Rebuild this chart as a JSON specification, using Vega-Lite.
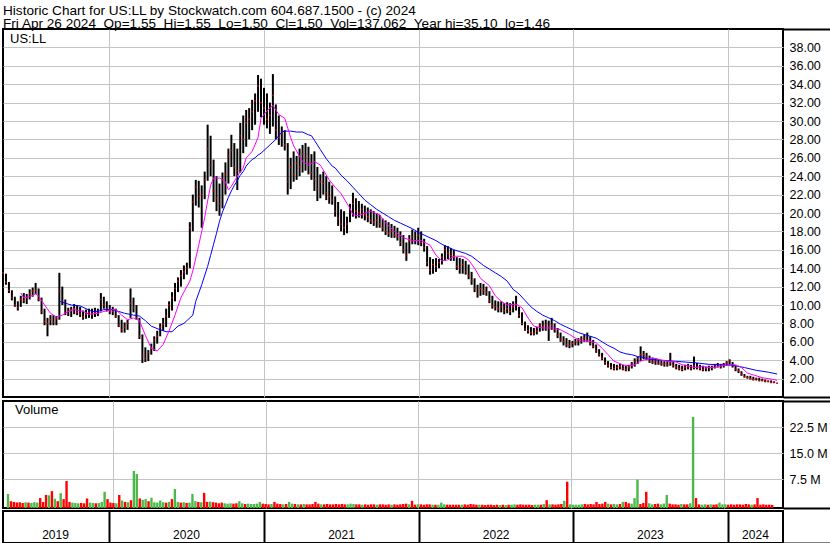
{
"$schema": "https://vega.github.io/schema/vega-lite/v6.json",
"background": "white",
"padding": {"left": 1, "top": 4, "right": 0, "bottom": 0},
"spacing": 0,
"title": {"text": ["Historic Chart for US:LL by Stockwatch.com 604.687.1500 - (c) 2024", "Fri Apr 26 2024 \u00a0Op=1.55 \u00a0Hi=1.55 \u00a0Lo=1.50 \u00a0Cl=1.50 \u00a0Vol=137,062 \u00a0Year hi=35.10 \u00a0lo=1.46"], "anchor": "start", "font": "Liberation Sans", "fontSize": 13.6, "fontWeight": "normal", "color": "black", "lineHeight": 13, "offset": -4, "dx": 2},
"config": {
  "view": {"stroke": "black", "strokeWidth": 2},
  "font": "Liberation Sans",
  "title": {"fontSize": 13.6, "font": "Liberation Sans", "fontWeight": "normal"},
  "axis": {"labelFont": "Liberation Sans", "labelFontSize": 12.5, "labelColor": "black", "gridColor": "#c4c4c4", "gridWidth": 1, "labelOverlap": false, "labelFlush": false, "labelBound": false, "minExtent": 0}
},
"datasets": {
"px": [
{"d":"2019-04-26","h":14.4,"l":13.2,"c":13.5,"v":3.3,"u":1},
{"d":"2019-05-03","h":13.4,"l":12.2,"c":12.5,"v":1.2,"u":0},
{"d":"2019-05-10","h":12.5,"l":11.3,"c":11.6,"v":1.0,"u":0},
{"d":"2019-05-17","h":11.6,"l":10.5,"c":10.8,"v":0.8,"u":0},
{"d":"2019-05-24","h":10.9,"l":9.8,"c":10.0,"v":0.9,"u":0},
{"d":"2019-05-31","h":10.4,"l":9.4,"c":9.7,"v":0.7,"u":0},
{"d":"2019-06-07","h":11.0,"l":9.8,"c":10.6,"v":0.9,"u":1},
{"d":"2019-06-14","h":11.3,"l":10.2,"c":10.5,"v":0.8,"u":0},
{"d":"2019-06-21","h":11.2,"l":10.1,"c":10.8,"v":0.7,"u":1},
{"d":"2019-06-28","h":11.7,"l":10.6,"c":11.2,"v":0.9,"u":1},
{"d":"2019-07-05","h":11.9,"l":10.9,"c":11.5,"v":0.8,"u":1},
{"d":"2019-07-12","h":12.4,"l":11.2,"c":11.6,"v":2.1,"u":0},
{"d":"2019-07-19","h":11.8,"l":10.4,"c":10.6,"v":1.0,"u":0},
{"d":"2019-07-26","h":10.8,"l":9.0,"c":9.3,"v":3.0,"u":0},
{"d":"2019-08-02","h":9.6,"l":7.8,"c":8.2,"v":2.9,"u":1},
{"d":"2019-08-09","h":8.6,"l":6.6,"c":8.0,"v":4.1,"u":0},
{"d":"2019-08-16","h":8.9,"l":7.8,"c":8.4,"v":1.9,"u":1},
{"d":"2019-08-23","h":8.9,"l":7.8,"c":8.1,"v":1.2,"u":0},
{"d":"2019-08-30","h":8.8,"l":7.8,"c":8.5,"v":3.5,"u":1},
{"d":"2019-09-06","h":13.5,"l":8.4,"c":11.5,"v":1.8,"u":0},
{"d":"2019-09-13","h":12.0,"l":10.0,"c":10.4,"v":7.0,"u":0},
{"d":"2019-09-20","h":10.6,"l":8.9,"c":9.2,"v":1.0,"u":0},
{"d":"2019-09-27","h":9.7,"l":8.8,"c":9.3,"v":0.8,"u":1},
{"d":"2019-10-04","h":9.8,"l":8.7,"c":9.5,"v":0.7,"u":1},
{"d":"2019-10-11","h":10.1,"l":9.0,"c":9.6,"v":0.6,"u":1},
{"d":"2019-10-18","h":10.0,"l":8.9,"c":9.2,"v":0.7,"u":0},
{"d":"2019-10-25","h":9.8,"l":8.7,"c":9.0,"v":0.6,"u":0},
{"d":"2019-11-01","h":9.4,"l":8.4,"c":8.7,"v":2.0,"u":0},
{"d":"2019-11-08","h":9.5,"l":8.5,"c":9.0,"v":0.8,"u":1},
{"d":"2019-11-15","h":9.6,"l":8.6,"c":9.2,"v":0.7,"u":1},
{"d":"2019-11-22","h":9.6,"l":8.5,"c":9.0,"v":0.6,"u":0},
{"d":"2019-11-29","h":9.7,"l":8.7,"c":9.2,"v":0.7,"u":1},
{"d":"2019-12-06","h":9.6,"l":8.8,"c":9.3,"v":1.0,"u":1},
{"d":"2019-12-13","h":11.3,"l":9.3,"c":10.6,"v":3.9,"u":1},
{"d":"2019-12-20","h":10.9,"l":9.6,"c":10.0,"v":1.8,"u":0},
{"d":"2019-12-27","h":10.4,"l":9.3,"c":9.6,"v":0.8,"u":0},
{"d":"2020-01-03","h":10.0,"l":9.0,"c":9.3,"v":0.7,"u":0},
{"d":"2020-01-10","h":9.8,"l":8.9,"c":9.3,"v":0.6,"u":1},
{"d":"2020-01-17","h":9.6,"l":8.6,"c":8.8,"v":3.0,"u":0},
{"d":"2020-01-24","h":8.9,"l":7.6,"c":7.8,"v":1.4,"u":1},
{"d":"2020-01-31","h":8.4,"l":7.0,"c":7.3,"v":1.0,"u":0},
{"d":"2020-02-07","h":8.1,"l":7.0,"c":7.6,"v":0.9,"u":1},
{"d":"2020-02-14","h":8.4,"l":7.3,"c":8.0,"v":1.5,"u":0},
{"d":"2020-02-21","h":11.8,"l":8.6,"c":10.2,"v":9.9,"u":1},
{"d":"2020-02-28","h":10.8,"l":9.2,"c":9.7,"v":9.0,"u":1},
{"d":"2020-03-06","h":10.0,"l":8.4,"c":8.6,"v":2.0,"u":0},
{"d":"2020-03-13","h":8.6,"l":6.3,"c":6.6,"v":1.6,"u":1},
{"d":"2020-03-20","h":6.8,"l":3.7,"c":4.4,"v":1.8,"u":1},
{"d":"2020-03-27","h":5.4,"l":3.8,"c":4.2,"v":1.2,"u":0},
{"d":"2020-04-03","h":5.1,"l":3.9,"c":4.8,"v":2.2,"u":1},
{"d":"2020-04-10","h":5.8,"l":4.6,"c":5.3,"v":0.9,"u":1},
{"d":"2020-04-17","h":6.6,"l":5.0,"c":6.2,"v":0.8,"u":1},
{"d":"2020-04-24","h":7.2,"l":5.8,"c":6.6,"v":1.4,"u":1},
{"d":"2020-05-01","h":8.0,"l":6.6,"c":7.6,"v":0.9,"u":1},
{"d":"2020-05-08","h":8.6,"l":7.2,"c":7.9,"v":0.8,"u":0},
{"d":"2020-05-15","h":9.6,"l":7.6,"c":8.8,"v":1.0,"u":1},
{"d":"2020-05-22","h":10.4,"l":8.6,"c":10.0,"v":1.8,"u":0},
{"d":"2020-05-29","h":11.4,"l":9.4,"c":10.8,"v":4.7,"u":1},
{"d":"2020-06-05","h":12.4,"l":10.4,"c":11.8,"v":1.0,"u":1},
{"d":"2020-06-12","h":13.0,"l":11.4,"c":12.6,"v":0.8,"u":0},
{"d":"2020-06-19","h":13.8,"l":12.0,"c":13.2,"v":0.9,"u":1},
{"d":"2020-06-26","h":14.3,"l":12.8,"c":13.6,"v":0.7,"u":0},
{"d":"2020-07-03","h":14.6,"l":13.3,"c":14.0,"v":0.8,"u":1},
{"d":"2020-07-10","h":19.0,"l":14.0,"c":18.4,"v":3.3,"u":1},
{"d":"2020-07-17","h":22.0,"l":18.0,"c":21.2,"v":1.2,"u":1},
{"d":"2020-07-24","h":23.6,"l":20.8,"c":22.8,"v":1.0,"u":0},
{"d":"2020-07-31","h":23.5,"l":20.6,"c":21.8,"v":0.9,"u":1},
{"d":"2020-08-07","h":23.0,"l":18.4,"c":22.0,"v":3.6,"u":0},
{"d":"2020-08-14","h":24.5,"l":21.5,"c":23.6,"v":1.0,"u":0},
{"d":"2020-08-21","h":29.6,"l":23.5,"c":27.0,"v":1.1,"u":1},
{"d":"2020-08-28","h":28.4,"l":24.0,"c":25.2,"v":0.9,"u":0},
{"d":"2020-09-04","h":25.8,"l":21.2,"c":22.4,"v":0.8,"u":0},
{"d":"2020-09-11","h":24.0,"l":20.2,"c":21.6,"v":0.6,"u":0},
{"d":"2020-09-18","h":23.2,"l":19.7,"c":21.0,"v":0.8,"u":0},
{"d":"2020-09-25","h":24.4,"l":20.5,"c":23.6,"v":0.6,"u":1},
{"d":"2020-10-02","h":25.5,"l":22.0,"c":24.2,"v":0.5,"u":1},
{"d":"2020-10-09","h":27.0,"l":23.2,"c":26.2,"v":0.6,"u":1},
{"d":"2020-10-16","h":28.5,"l":25.0,"c":26.8,"v":0.5,"u":0},
{"d":"2020-10-23","h":27.6,"l":24.0,"c":25.0,"v":0.6,"u":0},
{"d":"2020-10-30","h":27.0,"l":22.5,"c":24.6,"v":1.2,"u":1},
{"d":"2020-11-06","h":29.8,"l":24.4,"c":28.4,"v":0.6,"u":1},
{"d":"2020-11-13","h":30.6,"l":26.5,"c":28.0,"v":0.4,"u":0},
{"d":"2020-11-20","h":31.2,"l":27.2,"c":29.8,"v":0.5,"u":1},
{"d":"2020-11-27","h":31.4,"l":28.0,"c":30.2,"v":0.4,"u":1},
{"d":"2020-12-04","h":32.3,"l":29.0,"c":31.0,"v":0.4,"u":1},
{"d":"2020-12-11","h":33.0,"l":29.6,"c":32.2,"v":0.5,"u":1},
{"d":"2020-12-18","h":35.0,"l":31.0,"c":33.8,"v":1.0,"u":1},
{"d":"2020-12-25","h":34.6,"l":30.4,"c":32.0,"v":0.5,"u":0},
{"d":"2021-01-01","h":33.6,"l":29.6,"c":31.4,"v":0.4,"u":0},
{"d":"2021-01-08","h":33.0,"l":29.2,"c":30.2,"v":0.3,"u":0},
{"d":"2021-01-15","h":32.0,"l":28.6,"c":30.6,"v":0.4,"u":1},
{"d":"2021-01-22","h":35.1,"l":29.4,"c":32.8,"v":1.0,"u":0},
{"d":"2021-01-29","h":31.8,"l":28.0,"c":29.0,"v":0.5,"u":0},
{"d":"2021-02-05","h":30.6,"l":27.4,"c":28.2,"v":0.4,"u":0},
{"d":"2021-02-12","h":29.4,"l":27.2,"c":28.6,"v":0.3,"u":1},
{"d":"2021-02-19","h":29.0,"l":26.8,"c":27.4,"v":0.4,"u":0},
{"d":"2021-02-26","h":27.6,"l":22.0,"c":23.4,"v":1.0,"u":1},
{"d":"2021-03-05","h":26.0,"l":22.6,"c":25.0,"v":0.5,"u":1},
{"d":"2021-03-12","h":26.7,"l":23.4,"c":24.2,"v":0.4,"u":0},
{"d":"2021-03-19","h":26.2,"l":23.6,"c":25.4,"v":0.3,"u":1},
{"d":"2021-03-26","h":27.0,"l":24.0,"c":25.0,"v":0.3,"u":0},
{"d":"2021-04-02","h":27.4,"l":24.4,"c":26.4,"v":0.4,"u":1},
{"d":"2021-04-09","h":27.6,"l":24.6,"c":26.0,"v":0.3,"u":0},
{"d":"2021-04-16","h":27.2,"l":24.2,"c":25.4,"v":0.3,"u":0},
{"d":"2021-04-23","h":26.4,"l":23.6,"c":24.4,"v":0.4,"u":0},
{"d":"2021-04-30","h":26.7,"l":22.4,"c":23.6,"v":1.0,"u":0},
{"d":"2021-05-07","h":25.0,"l":21.3,"c":22.6,"v":0.5,"u":0},
{"d":"2021-05-14","h":24.2,"l":21.6,"c":23.4,"v":0.3,"u":1},
{"d":"2021-05-21","h":24.5,"l":22.0,"c":23.2,"v":0.3,"u":0},
{"d":"2021-05-28","h":24.0,"l":21.4,"c":22.2,"v":0.4,"u":0},
{"d":"2021-06-04","h":23.4,"l":21.0,"c":21.8,"v":0.3,"u":0},
{"d":"2021-06-11","h":23.0,"l":20.9,"c":21.4,"v":0.3,"u":0},
{"d":"2021-06-18","h":21.8,"l":19.6,"c":20.2,"v":0.4,"u":0},
{"d":"2021-06-25","h":21.2,"l":18.6,"c":19.4,"v":0.3,"u":0},
{"d":"2021-07-02","h":20.4,"l":18.0,"c":18.8,"v":0.4,"u":0},
{"d":"2021-07-09","h":20.2,"l":17.6,"c":18.4,"v":0.3,"u":0},
{"d":"2021-07-16","h":19.6,"l":17.8,"c":18.8,"v":0.3,"u":1},
{"d":"2021-07-23","h":21.0,"l":19.0,"c":20.4,"v":0.5,"u":1},
{"d":"2021-07-30","h":22.2,"l":19.6,"c":21.0,"v":0.4,"u":1},
{"d":"2021-08-06","h":21.6,"l":19.4,"c":20.2,"v":0.3,"u":0},
{"d":"2021-08-13","h":21.3,"l":19.5,"c":20.0,"v":0.3,"u":0},
{"d":"2021-08-20","h":21.0,"l":19.4,"c":20.4,"v":0.2,"u":1},
{"d":"2021-08-27","h":20.8,"l":19.2,"c":19.8,"v":0.3,"u":0},
{"d":"2021-09-03","h":20.6,"l":19.0,"c":19.6,"v":0.2,"u":0},
{"d":"2021-09-10","h":20.4,"l":18.8,"c":19.2,"v":0.3,"u":0},
{"d":"2021-09-17","h":20.2,"l":18.6,"c":19.0,"v":0.3,"u":0},
{"d":"2021-09-24","h":20.0,"l":18.4,"c":19.2,"v":0.2,"u":1},
{"d":"2021-10-01","h":19.8,"l":18.4,"c":18.8,"v":0.3,"u":0},
{"d":"2021-10-08","h":19.4,"l":18.0,"c":18.4,"v":0.3,"u":0},
{"d":"2021-10-15","h":19.2,"l":17.6,"c":18.0,"v":0.2,"u":0},
{"d":"2021-10-22","h":19.0,"l":17.4,"c":17.8,"v":0.3,"u":0},
{"d":"2021-10-29","h":18.8,"l":17.3,"c":18.0,"v":0.2,"u":1},
{"d":"2021-11-05","h":18.6,"l":17.3,"c":17.6,"v":0.3,"u":0},
{"d":"2021-11-12","h":18.4,"l":17.0,"c":17.4,"v":0.2,"u":0},
{"d":"2021-11-19","h":18.0,"l":16.4,"c":16.8,"v":0.3,"u":0},
{"d":"2021-11-26","h":17.6,"l":15.6,"c":16.0,"v":0.4,"u":0},
{"d":"2021-12-03","h":16.8,"l":14.8,"c":15.4,"v":0.5,"u":0},
{"d":"2021-12-10","h":17.6,"l":15.6,"c":17.0,"v":0.3,"u":1},
{"d":"2021-12-17","h":18.2,"l":16.6,"c":17.4,"v":1.3,"u":0},
{"d":"2021-12-24","h":18.0,"l":16.6,"c":17.0,"v":0.2,"u":0},
{"d":"2021-12-31","h":18.4,"l":16.5,"c":17.6,"v":0.3,"u":1},
{"d":"2022-01-07","h":18.0,"l":16.4,"c":16.8,"v":0.3,"u":0},
{"d":"2022-01-14","h":17.2,"l":15.8,"c":16.2,"v":0.2,"u":0},
{"d":"2022-01-21","h":16.4,"l":14.2,"c":14.6,"v":0.3,"u":0},
{"d":"2022-01-28","h":15.2,"l":13.3,"c":13.8,"v":0.3,"u":0},
{"d":"2022-02-04","h":15.0,"l":13.4,"c":14.4,"v":0.2,"u":1},
{"d":"2022-02-11","h":15.1,"l":13.6,"c":14.2,"v":0.2,"u":0},
{"d":"2022-02-18","h":15.0,"l":14.0,"c":14.6,"v":0.2,"u":1},
{"d":"2022-02-25","h":15.6,"l":14.4,"c":15.2,"v":0.8,"u":1},
{"d":"2022-03-04","h":16.5,"l":14.8,"c":16.0,"v":0.3,"u":1},
{"d":"2022-03-11","h":16.4,"l":15.0,"c":15.6,"v":0.2,"u":0},
{"d":"2022-03-18","h":16.2,"l":14.8,"c":15.4,"v":0.2,"u":0},
{"d":"2022-03-25","h":16.0,"l":14.8,"c":15.2,"v":0.2,"u":0},
{"d":"2022-04-01","h":15.2,"l":13.8,"c":14.2,"v":0.2,"u":0},
{"d":"2022-04-08","h":15.1,"l":13.4,"c":14.0,"v":0.2,"u":0},
{"d":"2022-04-15","h":15.0,"l":13.4,"c":14.4,"v":0.2,"u":1},
{"d":"2022-04-22","h":14.8,"l":13.3,"c":13.6,"v":0.3,"u":0},
{"d":"2022-04-29","h":14.4,"l":12.8,"c":13.2,"v":0.2,"u":0},
{"d":"2022-05-06","h":13.6,"l":12.2,"c":12.6,"v":0.4,"u":0},
{"d":"2022-05-13","h":12.9,"l":11.4,"c":11.8,"v":0.3,"u":0},
{"d":"2022-05-20","h":12.2,"l":10.8,"c":11.2,"v":0.2,"u":0},
{"d":"2022-05-27","h":12.4,"l":11.0,"c":11.8,"v":0.2,"u":1},
{"d":"2022-06-03","h":12.3,"l":11.1,"c":11.6,"v":0.2,"u":0},
{"d":"2022-06-10","h":12.0,"l":11.0,"c":11.4,"v":0.1,"u":0},
{"d":"2022-06-17","h":11.5,"l":10.2,"c":10.4,"v":0.2,"u":0},
{"d":"2022-06-24","h":11.0,"l":9.6,"c":9.9,"v":0.2,"u":0},
{"d":"2022-07-01","h":10.5,"l":9.4,"c":9.8,"v":0.1,"u":0},
{"d":"2022-07-08","h":10.4,"l":9.2,"c":9.6,"v":0.2,"u":0},
{"d":"2022-07-15","h":10.4,"l":9.2,"c":9.8,"v":0.1,"u":1},
{"d":"2022-07-22","h":10.2,"l":9.0,"c":9.4,"v":0.2,"u":0},
{"d":"2022-07-29","h":10.3,"l":9.1,"c":9.6,"v":0.1,"u":1},
{"d":"2022-08-05","h":10.2,"l":8.9,"c":9.3,"v":0.2,"u":0},
{"d":"2022-08-12","h":10.4,"l":9.2,"c":9.8,"v":0.2,"u":1},
{"d":"2022-08-19","h":11.0,"l":9.4,"c":10.0,"v":0.3,"u":1},
{"d":"2022-08-26","h":9.8,"l":8.6,"c":8.9,"v":0.2,"u":0},
{"d":"2022-09-02","h":9.2,"l":7.8,"c":8.0,"v":0.3,"u":0},
{"d":"2022-09-09","h":8.2,"l":7.2,"c":7.4,"v":0.2,"u":0},
{"d":"2022-09-16","h":7.8,"l":6.9,"c":7.2,"v":0.2,"u":0},
{"d":"2022-09-23","h":7.6,"l":6.7,"c":7.0,"v":0.2,"u":0},
{"d":"2022-09-30","h":7.5,"l":6.7,"c":6.9,"v":0.1,"u":0},
{"d":"2022-10-07","h":7.6,"l":6.8,"c":7.2,"v":0.2,"u":1},
{"d":"2022-10-14","h":8.0,"l":7.1,"c":7.8,"v":0.2,"u":1},
{"d":"2022-10-21","h":8.3,"l":7.2,"c":7.6,"v":0.2,"u":0},
{"d":"2022-10-28","h":8.4,"l":7.2,"c":7.9,"v":0.4,"u":1},
{"d":"2022-11-04","h":8.3,"l":6.1,"c":7.6,"v":1.5,"u":0},
{"d":"2022-11-11","h":8.6,"l":7.3,"c":7.8,"v":0.3,"u":1},
{"d":"2022-11-18","h":8.0,"l":7.0,"c":7.3,"v":0.3,"u":0},
{"d":"2022-11-25","h":7.5,"l":6.4,"c":6.7,"v":0.2,"u":0},
{"d":"2022-12-02","h":7.0,"l":6.0,"c":6.3,"v":0.3,"u":0},
{"d":"2022-12-09","h":6.6,"l":5.6,"c":6.0,"v":0.4,"u":0},
{"d":"2022-12-16","h":6.4,"l":5.4,"c":5.7,"v":1.3,"u":1},
{"d":"2022-12-23","h":6.2,"l":5.3,"c":5.6,"v":6.8,"u":0},
{"d":"2022-12-30","h":6.1,"l":5.4,"c":5.8,"v":0.3,"u":1},
{"d":"2023-01-06","h":6.3,"l":5.6,"c":6.0,"v":0.2,"u":1},
{"d":"2023-01-13","h":6.4,"l":5.6,"c":6.1,"v":0.2,"u":1},
{"d":"2023-01-20","h":6.6,"l":5.8,"c":6.3,"v":0.2,"u":1},
{"d":"2023-01-27","h":6.8,"l":6.0,"c":6.4,"v":0.3,"u":1},
{"d":"2023-02-03","h":7.0,"l":6.0,"c":6.2,"v":0.4,"u":0},
{"d":"2023-02-10","h":6.6,"l":5.6,"c":5.8,"v":0.3,"u":0},
{"d":"2023-02-17","h":6.2,"l":5.3,"c":5.5,"v":0.4,"u":0},
{"d":"2023-02-24","h":5.7,"l":4.8,"c":5.0,"v":0.3,"u":0},
{"d":"2023-03-03","h":5.2,"l":4.4,"c":4.6,"v":1.0,"u":0},
{"d":"2023-03-10","h":4.8,"l":4.0,"c":4.2,"v":0.4,"u":0},
{"d":"2023-03-17","h":4.3,"l":3.5,"c":3.7,"v":0.5,"u":0},
{"d":"2023-03-24","h":3.9,"l":3.2,"c":3.4,"v":1.0,"u":0},
{"d":"2023-03-31","h":3.7,"l":3.0,"c":3.2,"v":0.5,"u":1},
{"d":"2023-04-07","h":3.6,"l":2.9,"c":3.1,"v":0.3,"u":0},
{"d":"2023-04-14","h":3.5,"l":2.9,"c":3.2,"v":0.4,"u":1},
{"d":"2023-04-21","h":3.6,"l":3.0,"c":3.3,"v":0.3,"u":1},
{"d":"2023-04-28","h":3.5,"l":2.9,"c":3.1,"v":0.4,"u":0},
{"d":"2023-05-05","h":3.4,"l":2.8,"c":3.0,"v":1.0,"u":1},
{"d":"2023-05-12","h":3.5,"l":2.8,"c":3.2,"v":1.0,"u":0},
{"d":"2023-05-19","h":3.8,"l":3.1,"c":3.6,"v":0.6,"u":0},
{"d":"2023-05-26","h":4.2,"l":3.3,"c":3.9,"v":0.5,"u":1},
{"d":"2023-06-02","h":4.4,"l":3.6,"c":4.2,"v":2.1,"u":1},
{"d":"2023-06-09","h":5.5,"l":3.9,"c":4.6,"v":7.4,"u":1},
{"d":"2023-06-16","h":5.0,"l":4.1,"c":4.6,"v":0.4,"u":0},
{"d":"2023-06-23","h":4.8,"l":4.0,"c":4.4,"v":0.7,"u":0},
{"d":"2023-06-30","h":4.5,"l":3.7,"c":3.9,"v":3.9,"u":0},
{"d":"2023-07-07","h":4.3,"l":3.6,"c":3.8,"v":0.6,"u":1},
{"d":"2023-07-14","h":4.2,"l":3.5,"c":3.9,"v":0.3,"u":1},
{"d":"2023-07-21","h":4.1,"l":3.5,"c":3.7,"v":0.4,"u":0},
{"d":"2023-07-28","h":4.0,"l":3.4,"c":3.6,"v":0.5,"u":0},
{"d":"2023-08-04","h":3.9,"l":3.3,"c":3.6,"v":0.3,"u":1},
{"d":"2023-08-11","h":3.9,"l":3.3,"c":3.5,"v":0.5,"u":1},
{"d":"2023-08-18","h":4.8,"l":3.4,"c":3.7,"v":3.0,"u":1},
{"d":"2023-08-25","h":3.9,"l":3.2,"c":3.4,"v":0.5,"u":0},
{"d":"2023-09-01","h":3.6,"l":3.0,"c":3.3,"v":0.3,"u":0},
{"d":"2023-09-08","h":3.5,"l":2.9,"c":3.1,"v":0.3,"u":0},
{"d":"2023-09-15","h":3.4,"l":2.8,"c":3.0,"v":0.2,"u":0},
{"d":"2023-09-22","h":3.5,"l":2.9,"c":3.2,"v":0.4,"u":1},
{"d":"2023-09-29","h":3.6,"l":3.0,"c":3.3,"v":0.3,"u":0},
{"d":"2023-10-06","h":3.5,"l":2.9,"c":3.1,"v":0.3,"u":0},
{"d":"2023-10-13","h":4.4,"l":3.0,"c":3.4,"v":0.6,"u":1},
{"d":"2023-10-20","h":3.7,"l":3.0,"c":3.2,"v":25.4,"u":1},
{"d":"2023-10-27","h":3.5,"l":2.9,"c":3.1,"v":2.1,"u":0},
{"d":"2023-11-03","h":3.4,"l":2.8,"c":3.0,"v":0.3,"u":0},
{"d":"2023-11-10","h":3.3,"l":2.8,"c":3.1,"v":0.2,"u":1},
{"d":"2023-11-17","h":3.4,"l":2.8,"c":3.2,"v":0.3,"u":1},
{"d":"2023-11-24","h":3.4,"l":2.9,"c":3.2,"v":0.2,"u":0},
{"d":"2023-12-01","h":3.6,"l":3.1,"c":3.4,"v":0.3,"u":1},
{"d":"2023-12-08","h":3.7,"l":3.2,"c":3.5,"v":0.2,"u":0},
{"d":"2023-12-15","h":3.6,"l":3.1,"c":3.3,"v":0.3,"u":0},
{"d":"2023-12-22","h":3.7,"l":3.2,"c":3.5,"v":0.8,"u":1},
{"d":"2023-12-29","h":3.9,"l":3.4,"c":3.7,"v":0.3,"u":1},
{"d":"2024-01-05","h":4.1,"l":3.5,"c":3.9,"v":0.3,"u":1},
{"d":"2024-01-12","h":3.8,"l":3.2,"c":3.4,"v":0.2,"u":0},
{"d":"2024-01-19","h":3.4,"l":2.8,"c":3.0,"v":0.3,"u":0},
{"d":"2024-01-26","h":3.1,"l":2.6,"c":2.8,"v":0.2,"u":0},
{"d":"2024-02-02","h":2.8,"l":2.3,"c":2.5,"v":0.3,"u":0},
{"d":"2024-02-09","h":2.5,"l":2.1,"c":2.2,"v":0.3,"u":0},
{"d":"2024-02-16","h":2.3,"l":2.0,"c":2.1,"v":0.2,"u":0},
{"d":"2024-02-23","h":2.3,"l":1.9,"c":2.0,"v":0.4,"u":0},
{"d":"2024-03-01","h":2.2,"l":1.8,"c":1.9,"v":0.3,"u":0},
{"d":"2024-03-08","h":2.1,"l":1.8,"c":2.0,"v":0.2,"u":1},
{"d":"2024-03-15","h":2.1,"l":1.7,"c":1.8,"v":0.3,"u":0},
{"d":"2024-03-22","h":2.0,"l":1.7,"c":1.8,"v":2.1,"u":0},
{"d":"2024-03-29","h":1.9,"l":1.6,"c":1.7,"v":0.2,"u":0},
{"d":"2024-04-05","h":1.8,"l":1.6,"c":1.7,"v":0.3,"u":0},
{"d":"2024-04-12","h":1.8,"l":1.5,"c":1.6,"v":0.2,"u":0},
{"d":"2024-04-19","h":1.7,"l":1.5,"c":1.6,"v":0.2,"u":0},
{"d":"2024-04-26","h":1.55,"l":1.46,"c":1.5,"v":0.14,"u":0}
],
"fast": [
{"d":"2019-06-07","m":11.3},{"d":"2019-06-14","m":10.8},{"d":"2019-06-28","m":10.9},{"d":"2019-07-12","m":11.2},{"d":"2019-07-19","m":11.0},{"d":"2019-08-02","m":10.0},{"d":"2019-08-16","m":9.1},{"d":"2019-08-30","m":8.7},{"d":"2019-09-13","m":8.9},{"d":"2019-09-27","m":9.3},{"d":"2019-10-11","m":9.5},{"d":"2019-11-01","m":9.3},{"d":"2019-11-15","m":9.0},{"d":"2019-12-06","m":9.1},{"d":"2019-12-20","m":9.3},{"d":"2020-01-10","m":9.5},{"d":"2020-01-17","m":9.5},{"d":"2020-01-31","m":8.9},{"d":"2020-02-14","m":8.4},{"d":"2020-02-28","m":8.6},{"d":"2020-03-13","m":8.3},{"d":"2020-03-27","m":6.7},{"d":"2020-04-10","m":5.3},{"d":"2020-04-24","m":5.0},{"d":"2020-05-08","m":5.7},{"d":"2020-05-22","m":7.2},{"d":"2020-06-05","m":8.9},{"d":"2020-06-19","m":10.8},{"d":"2020-07-10","m":12.6},{"d":"2020-07-17","m":13.7},{"d":"2020-07-31","m":16.5},{"d":"2020-08-14","m":19.5},{"d":"2020-08-21","m":21.3},{"d":"2020-08-28","m":23.0},{"d":"2020-09-04","m":23.8},{"d":"2020-09-18","m":23.8},{"d":"2020-10-02","m":23.4},{"d":"2020-10-09","m":22.5},{"d":"2020-10-16","m":22.9},{"d":"2020-10-30","m":24.0},{"d":"2020-11-13","m":24.9},{"d":"2020-11-20","m":26.0},{"d":"2020-12-04","m":26.7},{"d":"2020-12-18","m":28.2},{"d":"2020-12-25","m":30.3},{"d":"2021-01-08","m":31.1},{"d":"2021-01-22","m":31.7},{"d":"2021-02-05","m":30.7},{"d":"2021-02-19","m":30.3},{"d":"2021-03-05","m":28.2},{"d":"2021-03-12","m":27.3},{"d":"2021-04-02","m":25.6},{"d":"2021-04-16","m":25.2},{"d":"2021-04-30","m":25.6},{"d":"2021-05-14","m":25.2},{"d":"2021-06-04","m":23.6},{"d":"2021-06-18","m":22.8},{"d":"2021-07-02","m":22.1},{"d":"2021-07-23","m":20.5},{"d":"2021-07-30","m":19.8},{"d":"2021-08-13","m":19.7},{"d":"2021-08-27","m":20.0},{"d":"2021-09-10","m":20.2},{"d":"2021-10-01","m":19.8},{"d":"2021-10-15","m":18.9},{"d":"2021-11-05","m":18.0},{"d":"2021-11-26","m":17.3},{"d":"2021-12-17","m":17.0},{"d":"2022-01-07","m":17.0},{"d":"2022-01-28","m":16.5},{"d":"2022-02-11","m":15.4},{"d":"2022-02-25","m":14.8},{"d":"2022-03-11","m":14.9},{"d":"2022-03-25","m":15.3},{"d":"2022-04-15","m":15.3},{"d":"2022-04-29","m":14.9},{"d":"2022-05-13","m":14.0},{"d":"2022-05-27","m":12.9},{"d":"2022-06-17","m":12.1},{"d":"2022-07-01","m":11.0},{"d":"2022-07-15","m":10.4},{"d":"2022-07-29","m":10.0},{"d":"2022-08-19","m":10.1},{"d":"2022-09-02","m":9.7},{"d":"2022-09-16","m":8.6},{"d":"2022-09-30","m":7.7},{"d":"2022-10-21","m":7.5},{"d":"2022-11-04","m":7.5},{"d":"2022-11-18","m":7.5},{"d":"2022-12-02","m":7.3},{"d":"2022-12-23","m":6.8},{"d":"2023-01-06","m":6.4},{"d":"2023-01-20","m":6.1},{"d":"2023-02-03","m":6.1},{"d":"2023-02-24","m":5.9},{"d":"2023-03-10","m":5.3},{"d":"2023-03-24","m":4.6},{"d":"2023-04-07","m":3.9},{"d":"2023-04-28","m":3.5},{"d":"2023-05-12","m":3.4},{"d":"2023-05-26","m":3.5},{"d":"2023-06-09","m":3.9},{"d":"2023-06-30","m":4.2},{"d":"2023-07-14","m":4.2},{"d":"2023-07-28","m":4.0},{"d":"2023-08-11","m":3.9},{"d":"2023-09-01","m":3.8},{"d":"2023-09-15","m":3.5},{"d":"2023-09-29","m":3.4},{"d":"2023-10-13","m":3.2},{"d":"2023-11-03","m":3.3},{"d":"2023-11-17","m":3.2},{"d":"2023-12-01","m":3.2},{"d":"2023-12-15","m":3.4},{"d":"2024-01-05","m":3.5},{"d":"2024-01-19","m":3.5},{"d":"2024-02-02","m":3.2},{"d":"2024-02-16","m":2.6},{"d":"2024-03-01","m":2.4},{"d":"2024-03-22","m":2.1},{"d":"2024-04-05","m":2.0},{"d":"2024-04-19","m":1.9},{"d":"2024-04-26","m":1.8}
],
"slow": [
{"d":"2019-09-06","m":10.4},{"d":"2019-09-20","m":10.2},{"d":"2019-10-04","m":10.0},{"d":"2019-10-25","m":9.9},{"d":"2019-11-08","m":9.6},{"d":"2019-11-22","m":9.3},{"d":"2019-12-06","m":9.3},{"d":"2019-12-20","m":9.5},{"d":"2020-01-10","m":9.5},{"d":"2020-01-24","m":9.3},{"d":"2020-02-07","m":9.1},{"d":"2020-02-28","m":8.9},{"d":"2020-03-13","m":8.8},{"d":"2020-03-27","m":8.3},{"d":"2020-04-10","m":7.7},{"d":"2020-05-01","m":7.3},{"d":"2020-05-15","m":7.1},{"d":"2020-05-29","m":7.1},{"d":"2020-06-12","m":7.7},{"d":"2020-06-26","m":8.0},{"d":"2020-07-17","m":8.9},{"d":"2020-07-24","m":10.4},{"d":"2020-08-07","m":12.2},{"d":"2020-08-21","m":14.2},{"d":"2020-08-28","m":15.4},{"d":"2020-09-04","m":16.6},{"d":"2020-09-11","m":17.8},{"d":"2020-09-18","m":19.1},{"d":"2020-09-25","m":20.1},{"d":"2020-10-02","m":20.9},{"d":"2020-10-09","m":21.7},{"d":"2020-10-16","m":22.4},{"d":"2020-10-23","m":23.0},{"d":"2020-10-30","m":23.5},{"d":"2020-11-06","m":24.1},{"d":"2020-11-13","m":24.5},{"d":"2020-11-20","m":25.1},{"d":"2020-11-27","m":25.5},{"d":"2020-12-04","m":25.8},{"d":"2020-12-11","m":26.0},{"d":"2020-12-18","m":26.3},{"d":"2020-12-25","m":26.5},{"d":"2021-01-01","m":26.8},{"d":"2021-01-08","m":27.1},{"d":"2021-01-15","m":27.4},{"d":"2021-01-22","m":27.7},{"d":"2021-01-29","m":28.0},{"d":"2021-02-05","m":28.4},{"d":"2021-02-12","m":28.8},{"d":"2021-02-19","m":28.9},{"d":"2021-03-05","m":28.9},{"d":"2021-03-19","m":28.8},{"d":"2021-04-02","m":28.8},{"d":"2021-04-16","m":28.5},{"d":"2021-04-23","m":28.4},{"d":"2021-04-30","m":27.9},{"d":"2021-05-07","m":27.4},{"d":"2021-05-14","m":26.9},{"d":"2021-05-21","m":26.4},{"d":"2021-05-28","m":25.9},{"d":"2021-06-04","m":25.5},{"d":"2021-06-11","m":25.1},{"d":"2021-06-18","m":24.9},{"d":"2021-07-02","m":24.1},{"d":"2021-07-16","m":23.5},{"d":"2021-07-30","m":22.8},{"d":"2021-08-13","m":22.1},{"d":"2021-08-27","m":21.4},{"d":"2021-09-10","m":20.9},{"d":"2021-09-24","m":20.4},{"d":"2021-10-08","m":20.0},{"d":"2021-10-22","m":19.6},{"d":"2021-11-05","m":19.2},{"d":"2021-11-19","m":18.9},{"d":"2021-12-03","m":18.6},{"d":"2021-12-17","m":18.3},{"d":"2021-12-31","m":17.9},{"d":"2022-01-14","m":17.6},{"d":"2022-01-28","m":17.3},{"d":"2022-02-11","m":17.0},{"d":"2022-02-25","m":16.6},{"d":"2022-03-11","m":16.3},{"d":"2022-03-25","m":16.0},{"d":"2022-04-08","m":15.8},{"d":"2022-04-22","m":15.6},{"d":"2022-05-06","m":15.3},{"d":"2022-05-20","m":14.8},{"d":"2022-06-03","m":14.3},{"d":"2022-06-17","m":13.9},{"d":"2022-07-01","m":13.5},{"d":"2022-07-15","m":13.1},{"d":"2022-07-29","m":12.6},{"d":"2022-08-12","m":11.7},{"d":"2022-08-26","m":11.2},{"d":"2022-09-09","m":10.5},{"d":"2022-09-23","m":9.8},{"d":"2022-10-07","m":9.3},{"d":"2022-10-21","m":8.9},{"d":"2022-11-04","m":8.6},{"d":"2022-11-18","m":8.3},{"d":"2022-12-02","m":7.9},{"d":"2022-12-16","m":7.6},{"d":"2022-12-30","m":7.3},{"d":"2023-01-13","m":7.0},{"d":"2023-01-27","m":6.8},{"d":"2023-02-10","m":6.6},{"d":"2023-02-24","m":6.4},{"d":"2023-03-10","m":6.0},{"d":"2023-03-24","m":5.6},{"d":"2023-04-07","m":5.3},{"d":"2023-04-21","m":4.9},{"d":"2023-05-05","m":4.7},{"d":"2023-05-19","m":4.6},{"d":"2023-06-02","m":4.4},{"d":"2023-06-16","m":4.3},{"d":"2023-06-30","m":4.1},{"d":"2023-07-14","m":4.05},{"d":"2023-07-28","m":4.0},{"d":"2023-08-25","m":3.9},{"d":"2023-09-22","m":3.8},{"d":"2023-10-20","m":3.7},{"d":"2023-11-17","m":3.55},{"d":"2023-12-15","m":3.5},{"d":"2024-01-12","m":3.45},{"d":"2024-02-09","m":3.2},{"d":"2024-03-08","m":2.9},{"d":"2024-04-05","m":2.7},{"d":"2024-04-26","m":2.5}
],
"yr": [
{"d":"2019-08-28","y":"2019"},{"d":"2020-07-02","y":"2020"},{"d":"2021-07-03","y":"2021"},{"d":"2022-07-03","y":"2022"},{"d":"2023-07-02","y":"2023"},{"d":"2024-03-06","y":"2024"}
]
},
"vconcat": [
{
  "width": 780, "height": 368,
  "layer": [
    {"data": {"name": "px"}, "mark": {"type": "rule", "color": "black", "strokeWidth": 2},
     "encoding": {
       "x": {"field": "d", "type": "temporal", "scale": {"type": "utc", "domain": [{"year": 2019, "month": 4, "date": 26, "utc": true}, {"year": 2024, "month": 5, "date": 10, "utc": true}]},
             "axis": {"values": [{"year": 2020, "month": 1, "date": 1, "utc": true}, {"year": 2021, "month": 1, "date": 1, "utc": true}, {"year": 2022, "month": 1, "date": 1, "utc": true}, {"year": 2023, "month": 1, "date": 1, "utc": true}, {"year": 2024, "month": 1, "date": 1, "utc": true}], "grid": true, "labels": false, "ticks": false, "domain": false, "title": null, "minExtent": 0, "maxExtent": 0, "labelPadding": 0}},
       "y": {"field": "l", "type": "quantitative", "scale": {"domain": [0, 40], "nice": false, "zero": false},
             "axis": {"orient": "right", "title": null, "domain": false, "labelOverlap": false, "values": [0,2,4,6,8,10,12,14,16,18,20,22,24,26,28,30,32,34,36,38,40], "labelExpr": "(datum.value > 0 && datum.value < 40) ? format(datum.value, '.2f') : ''", "labelFontSize": {"condition": {"test": "datum.value <= 0 || datum.value >= 40", "value": 0}, "value": 12.5}, "gridOpacity": {"condition": {"test": "datum.value > 0 && datum.value < 40", "value": 1}, "value": 0}, "tickOpacity": {"condition": {"test": "datum.value <= 0 || datum.value >= 40", "value": 1}, "value": 0}, "tickSize": 49, "tickColor": "black", "tickWidth": 2, "labelPadding": -43, "labelBaseline": "middle"}},
       "y2": {"field": "h"}
     }},
    {"data": {"name": "px"}, "mark": {"type": "tick", "color": "#ff0000", "orient": "horizontal", "size": 2, "thickness": 1.3},
     "encoding": {"x": {"field": "d", "type": "temporal"},
       "y": {"field": "c", "type": "quantitative", "axis": {"orient": "right", "title": null, "domain": false, "labelOverlap": false, "values": [0,2,4,6,8,10,12,14,16,18,20,22,24,26,28,30,32,34,36,38,40], "labelExpr": "(datum.value > 0 && datum.value < 40) ? format(datum.value, '.2f') : ''", "labelFontSize": {"condition": {"test": "datum.value <= 0 || datum.value >= 40", "value": 0}, "value": 12.5}, "gridOpacity": {"condition": {"test": "datum.value > 0 && datum.value < 40", "value": 1}, "value": 0}, "tickOpacity": {"condition": {"test": "datum.value <= 0 || datum.value >= 40", "value": 1}, "value": 0}, "tickSize": 49, "tickColor": "black", "tickWidth": 2, "labelPadding": -43, "labelBaseline": "middle"}}}},
    {"data": {"name": "slow"}, "mark": {"type": "line", "color": "#0000ff", "strokeWidth": 1},
     "encoding": {"x": {"field": "d", "type": "temporal"},
       "y": {"field": "m", "type": "quantitative", "axis": {"orient": "right", "title": null, "domain": false, "labelOverlap": false, "values": [0,2,4,6,8,10,12,14,16,18,20,22,24,26,28,30,32,34,36,38,40], "labelExpr": "(datum.value > 0 && datum.value < 40) ? format(datum.value, '.2f') : ''", "labelFontSize": {"condition": {"test": "datum.value <= 0 || datum.value >= 40", "value": 0}, "value": 12.5}, "gridOpacity": {"condition": {"test": "datum.value > 0 && datum.value < 40", "value": 1}, "value": 0}, "tickOpacity": {"condition": {"test": "datum.value <= 0 || datum.value >= 40", "value": 1}, "value": 0}, "tickSize": 49, "tickColor": "black", "tickWidth": 2, "labelPadding": -43, "labelBaseline": "middle"}}}},
    {"data": {"name": "fast"}, "mark": {"type": "line", "color": "#ff00ff", "strokeWidth": 1},
     "encoding": {"x": {"field": "d", "type": "temporal"},
       "y": {"field": "m", "type": "quantitative", "axis": {"orient": "right", "title": null, "domain": false, "labelOverlap": false, "values": [0,2,4,6,8,10,12,14,16,18,20,22,24,26,28,30,32,34,36,38,40], "labelExpr": "(datum.value > 0 && datum.value < 40) ? format(datum.value, '.2f') : ''", "labelFontSize": {"condition": {"test": "datum.value <= 0 || datum.value >= 40", "value": 0}, "value": 12.5}, "gridOpacity": {"condition": {"test": "datum.value > 0 && datum.value < 40", "value": 1}, "value": 0}, "tickOpacity": {"condition": {"test": "datum.value <= 0 || datum.value >= 40", "value": 1}, "value": 0}, "tickSize": 49, "tickColor": "black", "tickWidth": 2, "labelPadding": -43, "labelBaseline": "middle"}}}},
    {"data": {"values": [{"t": "US:LL"}]}, "mark": {"type": "text", "align": "left", "baseline": "top", "dx": 7, "dy": 4, "fontSize": 13, "font": "Liberation Sans", "color": "black"},
     "encoding": {"x": {"datum": {"year": 2019, "month": 4, "date": 26, "utc": true}, "type": "temporal"},
       "y": {"datum": 40, "type": "quantitative", "axis": {"orient": "right", "title": null, "domain": false, "labelOverlap": false, "values": [0,2,4,6,8,10,12,14,16,18,20,22,24,26,28,30,32,34,36,38,40], "labelExpr": "(datum.value > 0 && datum.value < 40) ? format(datum.value, '.2f') : ''", "labelFontSize": {"condition": {"test": "datum.value <= 0 || datum.value >= 40", "value": 0}, "value": 12.5}, "gridOpacity": {"condition": {"test": "datum.value > 0 && datum.value < 40", "value": 1}, "value": 0}, "tickOpacity": {"condition": {"test": "datum.value <= 0 || datum.value >= 40", "value": 1}, "value": 0}, "tickSize": 49, "tickColor": "black", "tickWidth": 2, "labelPadding": -43, "labelBaseline": "middle"}},
       "text": {"field": "t"}}}
  ]
},
{
  "spacing": 0,
  "vconcat": [
    {
      "width": 780, "height": 107,
      "layer": [
        {"data": {"name": "px"}, "mark": {"type": "bar", "width": 2.4},
         "encoding": {
           "x": {"field": "d", "type": "temporal", "scale": {"type": "utc", "domain": [{"year": 2019, "month": 4, "date": 26, "utc": true}, {"year": 2024, "month": 5, "date": 10, "utc": true}]},
                 "axis": {"values": [{"year": 2020, "month": 1, "date": 1, "utc": true}, {"year": 2021, "month": 1, "date": 1, "utc": true}, {"year": 2022, "month": 1, "date": 1, "utc": true}, {"year": 2023, "month": 1, "date": 1, "utc": true}, {"year": 2024, "month": 1, "date": 1, "utc": true}], "grid": true, "labels": false, "ticks": false, "domain": false, "title": null, "minExtent": 0, "maxExtent": 0, "labelPadding": 0}},
           "y": {"field": "v", "type": "quantitative", "scale": {"domain": [-0.75, 30], "nice": false, "zero": false},
                 "axis": {"orient": "right", "title": null, "domain": false, "labelOverlap": false, "values": [-0.75, 7.5, 15, 22.5, 30], "labelExpr": "(datum.value > 0 && datum.value < 30) ? format(datum.value, '.1f') + ' M' : ''", "labelFontSize": {"condition": {"test": "datum.value <= 0 || datum.value >= 30", "value": 0}, "value": 12.5}, "gridOpacity": {"condition": {"test": "datum.value > 0 && datum.value < 30", "value": 1}, "value": 0}, "tickOpacity": {"condition": {"test": "datum.value <= 0 || datum.value >= 30", "value": 1}, "value": 0}, "tickSize": 49, "tickColor": "black", "tickWidth": 2, "labelPadding": -43, "labelBaseline": "middle"}},
           "y2": {"datum": -0.75},
           "color": {"condition": {"test": "datum.u == 1", "value": "#4cb848"}, "value": "#ff0000"}
         }},
        {"data": {"values": [{"t": "Volume"}]}, "mark": {"type": "text", "align": "left", "baseline": "top", "dx": 7, "dy": 3, "fontSize": 13, "font": "Liberation Sans", "color": "black"},
         "encoding": {"x": {"datum": {"year": 2019, "month": 4, "date": 26, "utc": true}, "type": "temporal"},
           "y": {"datum": 30, "type": "quantitative", "axis": {"orient": "right", "title": null, "domain": false, "labelOverlap": false, "values": [-0.75, 7.5, 15, 22.5, 30], "labelExpr": "(datum.value > 0 && datum.value < 30) ? format(datum.value, '.1f') + ' M' : ''", "labelFontSize": {"condition": {"test": "datum.value <= 0 || datum.value >= 30", "value": 0}, "value": 12.5}, "gridOpacity": {"condition": {"test": "datum.value > 0 && datum.value < 30", "value": 1}, "value": 0}, "tickOpacity": {"condition": {"test": "datum.value <= 0 || datum.value >= 30", "value": 1}, "value": 0}, "tickSize": 49, "tickColor": "black", "tickWidth": 2, "labelPadding": -43, "labelBaseline": "middle"}},
           "text": {"field": "t"}}}
      ]
    },
    {
      "width": 780, "height": 32,
      "layer": [
        {"data": {"name": "yr"}, "mark": {"type": "text", "fontSize": 12, "font": "Liberation Sans", "color": "black", "baseline": "middle", "align": "center"},
         "encoding": {
           "x": {"field": "d", "type": "temporal", "scale": {"type": "utc", "domain": [{"year": 2019, "month": 4, "date": 26, "utc": true}, {"year": 2024, "month": 5, "date": 10, "utc": true}]},
                 "axis": {"values": [{"year": 2020, "month": 1, "date": 1, "utc": true}, {"year": 2021, "month": 1, "date": 1, "utc": true}, {"year": 2022, "month": 1, "date": 1, "utc": true}, {"year": 2023, "month": 1, "date": 1, "utc": true}, {"year": 2024, "month": 1, "date": 1, "utc": true}], "grid": true, "gridColor": "black", "gridWidth": 2, "labels": false, "ticks": false, "domain": false, "title": null, "minExtent": 0, "maxExtent": 0, "labelPadding": 0}},
           "y": {"datum": 0.5, "type": "quantitative", "scale": {"domain": [0, 2.1], "nice": false, "zero": false},
                 "axis": {"orient": "right", "title": null, "domain": false, "grid": false, "labels": false, "values": [0], "tickSize": 49, "tickColor": "black", "tickWidth": 2}},
           "text": {"field": "y"}
         }},
        {"mark": {"type": "rule", "color": "black", "strokeWidth": 2},
         "encoding": {"y": {"datum": 1, "type": "quantitative", "axis": {"orient": "right", "title": null, "domain": false, "grid": false, "labels": false, "values": [0], "tickSize": 49, "tickColor": "black", "tickWidth": 2}}}}
      ]
    }
  ]
}
]
}
